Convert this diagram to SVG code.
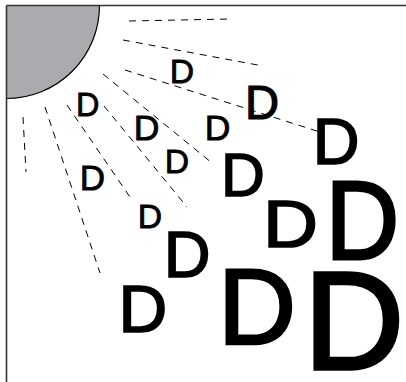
<svg xmlns="http://www.w3.org/2000/svg" width="406" height="382" viewBox="0 0 406 382">
  <style>
    .frame { stroke: #333; stroke-width: 1.6; fill: none; }
    .ray { stroke: #000; stroke-width: 1; stroke-dasharray: 7 6; fill: none; }
    .d { font-family: "Liberation Sans", Arial, sans-serif; font-size: 100px; fill: #000; stroke: #000; stroke-width: 2.5; }
  </style>
  <rect width="406" height="382" fill="#fff"/>
  <g id="sun">
    <path d="M6.5,5.5 H99.5 A93,93 0 0 1 6.5,98.5 Z" fill="#ababaf"/>
    <path d="M99.5,5.5 A93,93 0 0 1 6.5,98.5" fill="none" stroke="#000" stroke-width="1.2"/>
  </g>
  <g id="frame">
    <line class="frame" x1="6.5" y1="5.5" x2="406" y2="5.5"/>
    <line class="frame" x1="6.5" y1="5.5" x2="6.5" y2="382"/>
  </g>
  <g id="rays">
    <line class="ray" x1="129" y1="21" x2="230" y2="19"/>
    <line class="ray" x1="123" y1="40" x2="263" y2="66"/>
    <line class="ray" x1="125" y1="70" x2="320" y2="132"/>
    <line class="ray" x1="103" y1="74" x2="212" y2="163"/>
    <line class="ray" x1="104" y1="106" x2="187" y2="207"/>
    <line class="ray" x1="67" y1="105" x2="132" y2="200"/>
    <line class="ray" x1="45" y1="107" x2="100" y2="273"/>
    <line class="ray" x1="23" y1="117" x2="26" y2="172"/>
  </g>
  <g id="letters">
    <text class="d" transform="translate(169.8,82.6) scale(0.337)">D</text>
    <text class="d" transform="translate(75.9,115.6) scale(0.324)">D</text>
    <text class="d" transform="translate(133.7,139.6) scale(0.355)">D</text>
    <text class="d" transform="translate(204.7,139.6) scale(0.355)">D</text>
    <text class="d" transform="translate(245,119.4) scale(0.472)">D</text>
    <text class="d" transform="translate(312.8,164.2) scale(0.648)">D</text>
    <text class="d" transform="translate(164.8,172.6) scale(0.337)">D</text>
    <text class="d" transform="translate(221.1,196.2) scale(0.607)">D</text>
    <text class="d" transform="translate(79.7,189.6) scale(0.35)">D</text>
    <text class="d" transform="translate(137.8,227.6) scale(0.337)">D</text>
    <text class="d" transform="translate(263.1,247.2) scale(0.762,0.675)">D</text>
    <text class="d" transform="translate(325.4,258.6) scale(1.021,1.107)">D</text>
    <text class="d" transform="translate(163.8,277.2) scale(0.648)">D</text>
    <text class="d" transform="translate(118.6,332.2) scale(0.675)">D</text>
    <text class="d" transform="translate(218,343.6) scale(1.08)">D</text>
    <text class="d" transform="translate(303.7,369.3) scale(1.39)">D</text>
  </g>
</svg>
